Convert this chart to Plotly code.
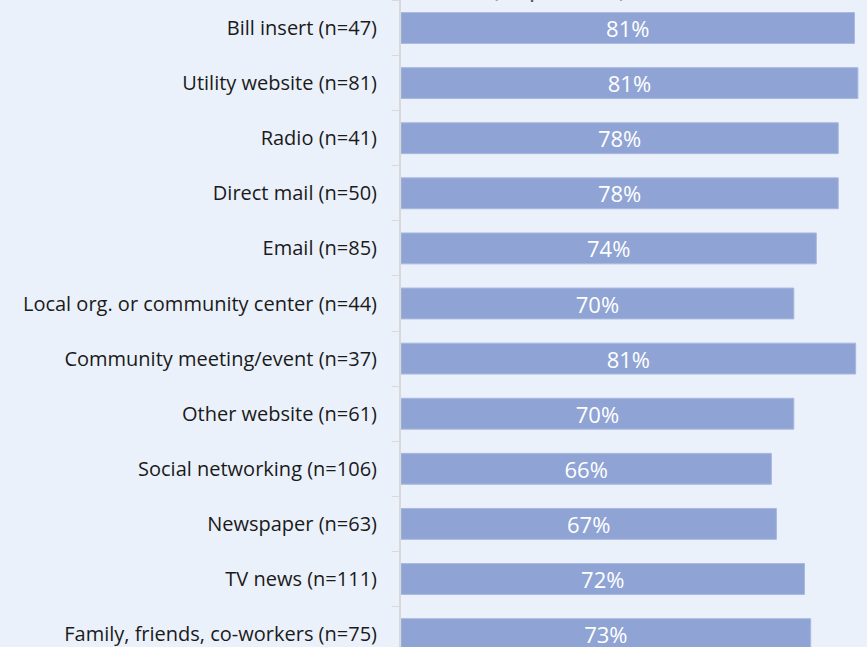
import plotly.graph_objects as go

categories = [
    "Bill insert (n=47)",
    "Utility website (n=81)",
    "Radio (n=41)",
    "Direct mail (n=50)",
    "Email (n=85)",
    "Local org. or community center (n=44)",
    "Community meeting/event (n=37)",
    "Other website (n=61)",
    "Social networking (n=106)",
    "Newspaper (n=63)",
    "TV news (n=111)",
    "Family, friends, co-workers (n=75)",
]
values = [80.7, 81.3, 77.8, 77.8, 73.9, 69.9, 80.9, 69.9, 65.9, 66.8, 71.8, 72.9]
labels = ["81%", "81%", "78%", "78%", "74%", "70%", "81%", "70%", "66%", "67%", "72%", "73%"]
title_text = "(Top 2 Box)"

W, H = 867, 647
x0 = 401
px_per_unit = 5.62
first_center = 28.0
step = 55.1

fig = go.Figure(go.Bar(
    x=values, y=categories, orientation="h",
    marker=dict(color="#8FA4D4", line=dict(color="#A8B8E0", width=1)),
    width=0.56,
    text=labels, textposition="inside", insidetextanchor="middle",
    constraintext="none",
    textfont=dict(family="Open Sans", size=22, color="white"),
    cliponaxis=True,
))

top_idx = -first_center / step
bot_idx = (H - first_center) / step

fig.update_layout(
    width=W, height=H,
    margin=dict(l=x0, r=0, t=0, b=0),
    paper_bgcolor="#EAF1FA", plot_bgcolor="#EAF1FA",
    showlegend=False,
    font=dict(family="Open Sans", size=20, color="#1a1a1a"),
    xaxis=dict(range=[0, (W - x0) / px_per_unit], visible=False, fixedrange=True),
    yaxis=dict(
        type="category", range=[bot_idx, top_idx],
        tickson="boundaries", ticks="outside", ticklen=7, tickcolor="#D9D9D9",
        showline=True, linecolor="#D9D9D9", linewidth=2,
        showgrid=False, ticklabelstandoff=18, fixedrange=True,
        tickfont=dict(family="Open Sans", size=20, color="#1a1a1a"),
    ),
    annotations=[dict(
        text=title_text, xref="paper", yref="paper",
        x=(559 - x0) / (W - x0), xanchor="center",
        y=(H - 5) / H, yanchor="bottom", showarrow=False, borderpad=0,
        font=dict(family="Open Sans", size=26, color="#595959"),
    )],
)

fig.write_html(
    "out.html",
    config={"displayModeBar": False},
    post_script="document.body.style.margin='0';document.body.style.overflow='hidden';",
)
